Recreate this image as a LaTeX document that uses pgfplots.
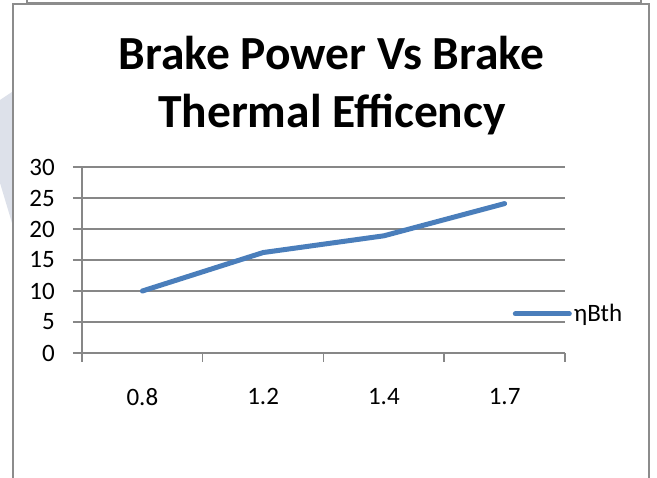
\documentclass[border=0pt]{standalone}
\usepackage{fontspec}
\setmainfont{Carlito}
\usepackage{pgfplots}
\pgfplotsset{compat=1.18}
\definecolor{gridgray}{HTML}{878787}
\definecolor{frame}{HTML}{8C8C8C}
\definecolor{serblue}{HTML}{4A7EBB}
\definecolor{wm}{HTML}{DDE1EA}
\begin{document}
\begin{tikzpicture}[x=1pt,y=1pt]
\useasboundingbox (0,0) rectangle (657,478);
\clip (0,0) rectangle (657,478);
% watermark hints
\fill[wm] (0,378) -- (12,386) -- (12,255) -- (0,295) -- cycle;
% frames
\draw[frame, line width=1.5pt] (27,480) -- (27,475) -- (641,475) -- (641,480);
\draw[frame, line width=2pt] (13,-10) -- (13,473.5) -- (649,473.5) -- (649,-10);
% title
\node[anchor=base, inner sep=0pt, font=\fontsize{47.5}{56}\selectfont\bfseries] at (331.5,408) {Brake Power Vs Brake};
\node[anchor=base, inner sep=0pt, font=\fontsize{47.5}{56}\selectfont\bfseries] at (332,350) {Thermal Efficency};
\begin{axis}[
  at={(82pt,125pt)}, anchor=south west,
  scale only axis, width=483pt, height=186pt,
  xmin=-0.5, xmax=3.5, ymin=0, ymax=30,
  axis x line=bottom, axis y line=left,
  axis line style={-, draw=gridgray, line width=1.5pt},
  ytick={0,5,...,30},
  ymajorgrids,
  grid style={gridgray, line width=1.5pt},
  tick align=outside,
  major tick length=9pt, minor tick length=9pt,
  tick style={gridgray, line width=1.5pt},
  xtick={0,1,2,3},
  xticklabels={0.8,1.2,1.4,1.7},
  major x tick style={draw=none},
  minor xtick={-0.5,0.5,1.5,2.5,3.5},
  ticklabel style={font=\fontsize{25}{30}\selectfont, text=black, inner sep=0pt},
  yticklabel style={anchor=east, xshift=-18pt},
  xticklabel style={anchor=north, yshift=-26pt},
  /pgf/number format/assume math mode=true,
  legend style={at={(0.892,0.21)}, anchor=west, draw=none, fill=none,
     inner sep=0pt, outer sep=0pt, font=\fontsize{25}{30}\selectfont},
  legend image code/.code={\draw[#1] (0pt,0pt) -- (54pt,0pt);},
  clip=false,
]
\addplot[serblue, line width=5pt, line cap=round, line join=round] coordinates {
  (0,10.0) (1,16.2) (2,18.9) (3,24.1)
};
\addlegendentry{ηBth}
\end{axis}
\end{tikzpicture}
\end{document}
